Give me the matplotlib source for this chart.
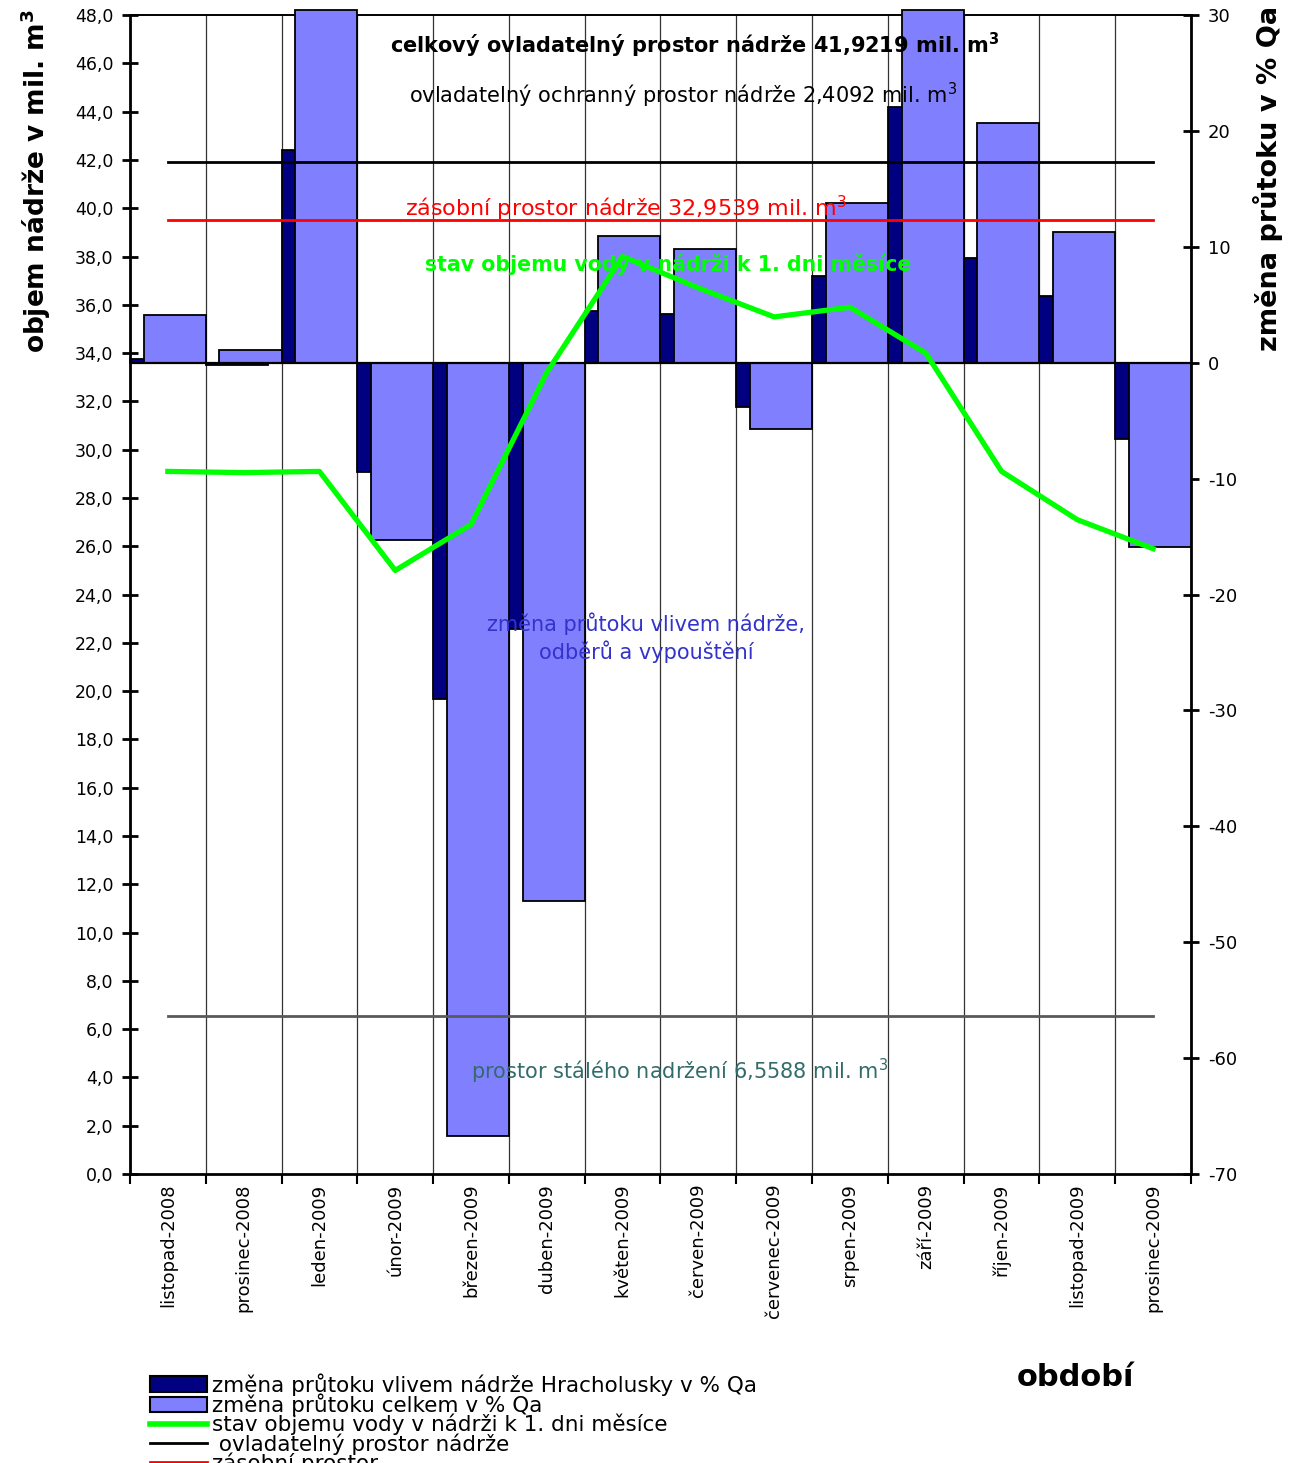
import numpy as np
import matplotlib.pyplot as plt
from matplotlib.patches import Patch
from matplotlib.lines import Line2D
from matplotlib.ticker import FuncFormatter, MultipleLocator

plt.rcParams['font.family'] = ['DejaVu Sans']
plt.rcParams['axes.unicode_minus'] = False

# data
mesice = ['listopad-2008', 'prosinec-2008', 'leden-2009', 'únor-2009', 'březen-2009',
          'duben-2009', 'květen-2009', 'červen-2009', 'červenec-2009', 'srpen-2009',
          'září-2009', 'říjen-2009', 'listopad-2009', 'prosinec-2009']
zmena_nadrz = [0.3, -0.2, 18.4, -9.4, -29.0, -23.0, 4.5, 4.2, -3.8, 7.5, 22.1, 9.0, 5.8, -6.6]
zmena_celkem = [4.1, 1.1, 30.4, -15.3, -66.7, -46.4, 10.9, 9.8, -5.7, 13.8, 30.4, 20.7, 11.3, -15.9]
objem = [29.1, 29.05, 29.1, 25.0, 26.9, 33.2, 38.0, 36.7, 35.5, 35.9, 34.0, 29.1, 27.1, 25.9]
stale_nadrzeni = 6.5588
zasobni = 32.9539
ovladatelny = 41.9219

x = np.arange(len(mesice))

fig = plt.figure(figsize=(12.97, 14.63), dpi=100)
ax = fig.add_axes([0.1002, 0.1975, 0.8181, 0.7922])   # bars, right axis
ax2 = ax.twinx()                                      # volumes, left axis

# bars (% Qa)
ax.bar(x - 0.5, zmena_nadrz, width=0.82, align='edge', color='#000080',
       edgecolor='black', linewidth=1.3, clip_on=False, zorder=2)
ax.bar(x - 0.32, zmena_celkem, width=0.82, align='edge', color='#8080FF',
       edgecolor='black', linewidth=1.3, clip_on=False, zorder=3)
ax.axhline(0, color='black', lw=1.6, zorder=4)
ax.set_ylim(-70, 30)
ax.set_xlim(-0.5, 13.5)
ax.yaxis.set_major_locator(MultipleLocator(10))
ax.yaxis.tick_right()
ax.yaxis.set_label_position('right')
ax.set_ylabel('změna průtoku v % Qa', fontsize=19.5, fontweight='bold')
ax.yaxis.set_label_coords(1.058, 0.859)
ax.tick_params(axis='y', which='major', direction='inout', length=12, width=2,
               labelsize=13, pad=6)

ax.set_xticks(x)
ax.set_xticklabels(mesice, rotation=90, fontsize=13)
ax.set_xticks(np.arange(-0.5, 14, 1), minor=True)
ax.tick_params(axis='x', which='major', length=0, pad=7)
ax.tick_params(axis='x', which='minor', direction='out', length=7, width=1.5)
ax.grid(which='minor', axis='x', color='#333333', lw=0.9)
ax.set_axisbelow(True)
for s in ax.spines.values():
    s.set_linewidth(2)
ax.spines['top'].set_linewidth(1.4)

# volume lines (mil. m3)
ax2.plot(x, [ovladatelny] * len(x), color='black', lw=2, zorder=5)
ax2.plot(x, [stale_nadrzeni + zasobni] * len(x), color='#FF0000', lw=2, zorder=5)
ax2.plot(x, [stale_nadrzeni] * len(x), color='#595959', lw=2, zorder=5)
ax2.plot(x, objem, color='#00FF00', lw=3.8, zorder=6)
ax2.set_ylim(0, 48)
ax2.yaxis.set_major_locator(MultipleLocator(2))
ax2.yaxis.set_major_formatter(FuncFormatter(lambda v, p: f'{v:.1f}'.replace('.', ',')))
ax2.yaxis.tick_left()
ax2.yaxis.set_label_position('left')
ax2.set_ylabel('objem nádrže v mil. m$^\\mathbf{3}$', fontsize=19, fontweight='bold')
ax2.yaxis.set_label_coords(-0.073, 0.857)
ax2.tick_params(axis='y', direction='inout', length=12, width=2, labelsize=12.5, pad=6)
for s in ax2.spines.values():
    s.set_visible(False)

# annotations
ax2.text(6.95, 46.76, 'celkový ovladatelný prostor nádrže 41,9219 mil. m$^\\mathbf{3}$',
         fontsize=15, fontweight='bold', ha='center', va='center', zorder=7)
ax2.text(6.8, 44.69, 'ovladatelný ochranný prostor nádrže 2,4092 mil. m$^3$',
         fontsize=15, ha='center', va='center', zorder=7)
ax2.text(6.04, 40.0, 'zásobní prostor nádrže 32,9539 mil. m$^3$',
         fontsize=16, color='#FF0000', ha='center', va='center', zorder=7)
ax2.text(6.6, 37.69, 'stav objemu vody v nádrži k 1. dni měsíce',
         fontsize=14.8, fontweight='bold', color='#00FF00', ha='center', va='center', zorder=7)
ax2.text(6.31, 22.2, 'změna průtoku vlivem nádrže,\nodběrů a vypouštění',
         fontsize=15, color='#3333CC', ha='center', va='center', linespacing=1.3, zorder=7)
ax2.text(6.76, 4.27, 'prostor stálého nadržení 6,5588 mil. m$^3$',
         fontsize=15, color='#336B6B', ha='center', va='center', zorder=7)

fig.text(1076 / 1297, 1 - 1377 / 1463, 'období', fontsize=22, fontweight='bold',
         ha='center', va='center')

# legend runs past the bottom edge like in the original
handles = [
    Patch(facecolor='#000080', edgecolor='black', linewidth=1.5),
    Patch(facecolor='#8080FF', edgecolor='black', linewidth=1.5),
    Line2D([], [], color='#00FF00', lw=4),
    Line2D([], [], color='black', lw=2),
    Line2D([], [], color='#FF0000', lw=2),
]
labels = [
    'změna průtoku vlivem nádrže Hracholusky v % Qa',
    'změna průtoku celkem v % Qa',
    'stav objemu vody v nádrži k 1. dni měsíce',
    ' ovladatelný prostor nádrže',
    'zásobní prostor',
]
fig.legend(handles, labels, loc='upper left', bbox_to_anchor=(150 / 1297, 1 - 1373 / 1463),
           frameon=False, fontsize=15.5, labelspacing=-0.1, handlelength=2.65,
           handleheight=0.75, handletextpad=0.22, borderpad=0, borderaxespad=0)

fig.savefig('out.png', dpi=100)
